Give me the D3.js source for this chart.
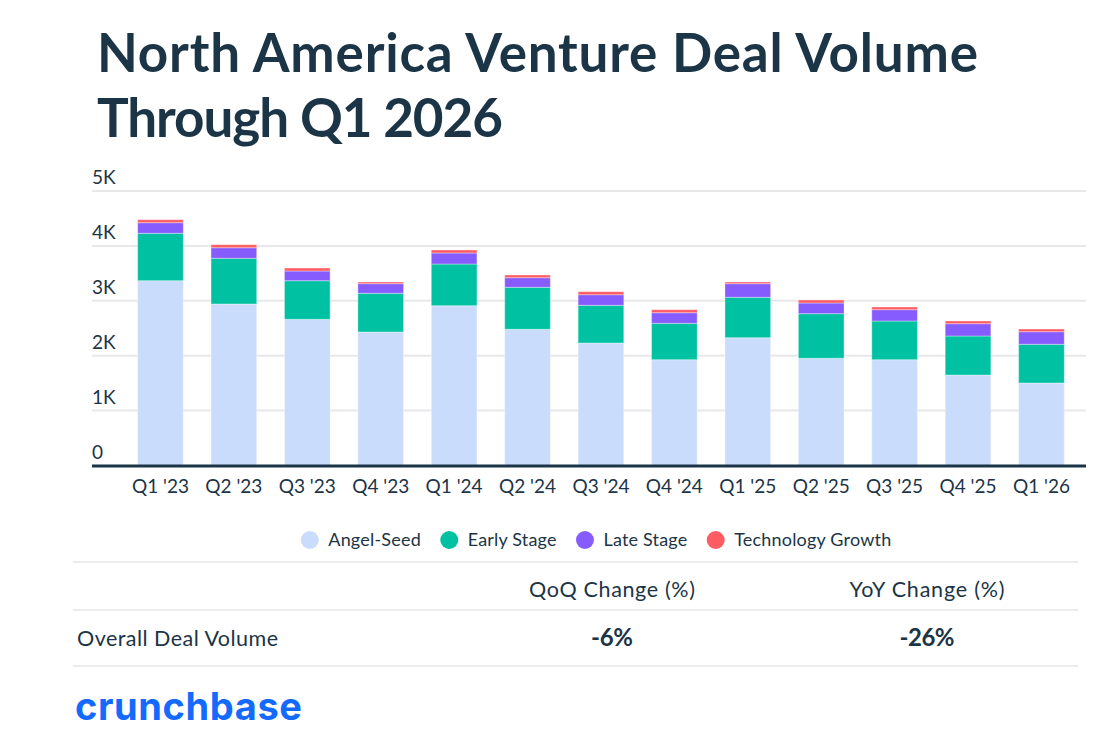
<!DOCTYPE html>
<html>
<head>
<meta charset="utf-8">
<script src="https://cdn.jsdelivr.net/npm/d3@7"></script>
<style>
  body { margin: 0; background: #fff; }
  text { font-family: Lato, "Noto Sans", sans-serif; fill: #1b3446; }
</style>
</head>
<body>
<div id="chart"></div>
<script>
// data (deal counts per quarter)
const quarters = ["Q1 '23", "Q2 '23", "Q3 '23", "Q4 '23", "Q1 '24", "Q2 '24", "Q3 '24",
    "Q4 '24", "Q1 '25", "Q2 '25", "Q3 '25", "Q4 '25", "Q1 '26"];
const angelSeed  = [3366, 2942, 2663, 2432, 2911, 2481, 2231, 1927, 2328, 1953, 1927, 1648, 1503];
const earlyStage = [864, 832, 703, 705, 759, 765, 687, 663, 736, 812, 705, 711, 705];
const lateStage  = [193, 193, 177, 175, 201, 175, 193, 193, 248, 195, 206, 224, 229];
const techGrowth = [54, 55, 54, 30, 54, 49, 55, 55, 30, 55, 49, 49, 49];
const seriesNames = ["Angel-Seed", "Early Stage", "Late Stage", "Technology Growth"];
const seriesColors = ["#cadcfc", "#00c2a2", "#875cff", "#ff5c63"];
const yTicks = [0, 1000, 2000, 3000, 4000, 5000];
const tableHeaders = ["QoQ Change (%)", "YoY Change (%)"];
const rowLabel = "Overall Deal Volume";
const rowValues = ["-6%", "-26%"];

let svg = d3.select('#chart').append('svg')
    .attr('width', 1109)
    .attr('height', 742)

// stretch/squeeze a text to the width it has in the original
function fit(sel, w) {
    sel.attr('textLength', w).attr('lengthAdjust', 'spacing')
    return sel
}

// title
let title = svg.append('text')
    .style('font-size', '53px')
    .style('font-weight', 700)
fit(title.append('tspan').attr('x', 97).attr('y', 72).text('North America Venture Deal Volume'), 881)
fit(title.append('tspan').attr('x', 97).attr('y', 137).text('Through Q1 2026'), 406)

// build a row table for the stack
let table = quarters.map(function (q, i) {
    return {
        quarter: q,
        "Angel-Seed": angelSeed[i],
        "Early Stage": earlyStage[i],
        "Late Stage": lateStage[i],
        "Technology Growth": techGrowth[i]
    }
})
let stacked = d3.stack().keys(seriesNames)(table)

let y = d3.scaleLinear()
    .domain([0, 5000])
    .range([465.5, 191])

let x = d3.scaleBand()
    .domain(quarters)
    .range([115.6, 1086.3])
    .paddingInner(0.378)
    .paddingOuter(0.3)

let color = d3.scaleOrdinal().domain(seriesNames).range(seriesColors)

// gridlines
svg.append('g').selectAll('line')
    .data(yTicks.slice(1))
    .enter()
    .append('line')
    .attr('x1', 92)
    .attr('x2', 1086)
    .attr('y1', function (d) { return y(d) })
    .attr('y2', function (d) { return y(d) })
    .attr('stroke', '#e8e8eb')
    .attr('stroke-width', 2)

// y labels sit above their gridline
svg.append('g').selectAll('text')
    .data(yTicks)
    .enter()
    .append('text')
    .attr('x', 92)
    .attr('y', function (d) { return y(d) - 7 })
    .style('font-size', '19px')
    .text(function (d) { return d === 0 ? '0' : (d / 1000) + 'K' })

// bars
svg.append('g').selectAll('g')
    .data(stacked)
    .enter()
    .append('g')
    .attr('fill', function (d) { return color(d.key) })
    .selectAll('rect')
    .data(function (d) { return d })
    .enter()
    .append('rect')
    .attr('x', function (d) { return x(d.data.quarter) })
    .attr('y', function (d) { return y(d[1]) })
    .attr('height', function (d) { return y(d[0]) - y(d[1]) })
    .attr('width', x.bandwidth())
    .attr('stroke', 'rgba(255,255,255,0.35)')
    .attr('stroke-width', 1)

// baseline
svg.append('line')
    .attr('x1', 92)
    .attr('x2', 1086)
    .attr('y1', y(0) + 0.5)
    .attr('y2', y(0) + 0.5)
    .attr('stroke', '#1b3446')
    .attr('stroke-width', 3)

// x labels
svg.append('g').selectAll('text')
    .data(quarters)
    .enter()
    .append('text')
    .attr('x', function (d) { return x(d) + x.bandwidth() / 2 })
    .attr('y', 493)
    .attr('text-anchor', 'middle')
    .style('font-size', '19px')
    .text(function (d) { return d })

// legend, centred under the plot
let legend = svg.append('g')
let lx = 0
seriesNames.forEach(function (name, i) {
    let item = legend.append('g').attr('transform', 'translate(' + lx + ',0)')
    item.append('circle').attr('cx', 9).attr('cy', 540).attr('r', 9).attr('fill', seriesColors[i])
    let t = item.append('text')
        .attr('x', 27.5)
        .attr('y', 546)
        .style('font-size', '18px')
        .text(name)
    let w = t.node().getComputedTextLength() * 1.02
    fit(t, w)
    lx += 27.5 + w + 19.5
})
lx -= 19.5
legend.attr('transform', 'translate(' + (596 - lx / 2) + ',0)')

// summary table
let tableLines = [562, 610, 666]
svg.append('g').selectAll('line')
    .data(tableLines)
    .enter()
    .append('line')
    .attr('x1', 73)
    .attr('x2', 1078)
    .attr('y1', function (d) { return d })
    .attr('y2', function (d) { return d })
    .attr('stroke', '#ececef')
    .attr('stroke-width', 2)

let colCenters = [612, 927]
let headerWidths = [166, 155]
let valueWidths = [42, 55]
tableHeaders.forEach(function (h, i) {
    fit(svg.append('text')
        .attr('x', colCenters[i])
        .attr('y', 597)
        .attr('text-anchor', 'middle')
        .style('font-size', '21.5px')
        .text(h), headerWidths[i])
    fit(svg.append('text')
        .attr('x', colCenters[i])
        .attr('y', 646)
        .attr('text-anchor', 'middle')
        .style('font-size', '24px')
        .style('font-weight', 700)
        .text(rowValues[i]), valueWidths[i])
})
fit(svg.append('text')
    .attr('x', 77)
    .attr('y', 646)
    .style('font-size', '21.5px')
    .text(rowLabel), 201)

// logo wordmark
fit(svg.append('text')
    .attr('x', 75)
    .attr('y', 720)
    .style('font-family', 'Inter, Lato, sans-serif')
    .style('font-size', '38px')
    .style('font-weight', 700)
    .style('fill', '#146aff')
    .text('crunchbase'), 227)
</script>
</body>
</html>
